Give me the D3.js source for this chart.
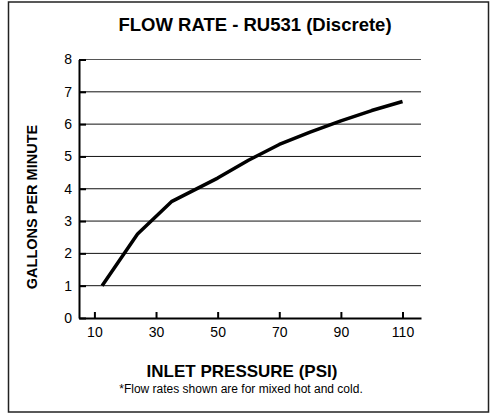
<!DOCTYPE html>
<html>
<head>
<meta charset="utf-8">
<script src="https://cdn.jsdelivr.net/npm/d3@7"></script>
<style>
  body { margin: 0; background: #fff; }
  svg text { font-family: "Liberation Sans", Arial, Helvetica, sans-serif; fill: #000; }
</style>
</head>
<body>
<div class="chart"></div>
<script>
// chart data
var pressure = [12.5, 24, 35, 50, 60, 70, 80, 90, 100, 110];
var gpm = [1.0, 2.6, 3.6, 4.33, 4.88, 5.37, 5.75, 6.1, 6.42, 6.7];
var xTicks = [10, 30, 50, 70, 90, 110];
var yTicks = [0, 1, 2, 3, 4, 5, 6, 7, 8];

var width = 490,
    height = 415;

var svg = d3.select('.chart').append('svg')
    .attr('width', width)
    .attr('height', height);

// frame
svg.append('rect')
    .attr('x', 8.5)
    .attr('y', 2)
    .attr('width', 480)
    .attr('height', 410)
    .attr('fill', 'none')
    .attr('stroke', '#222')
    .attr('stroke-width', 1.5);

// plot area (don't use "top", it clashes with window.top)
var plotLeft = 79, plotRight = 421, plotTop = 59.5, plotBottom = 318;

var x = d3.scaleLinear().domain([5, 116]).range([plotLeft, plotRight]);
var y = d3.scaleLinear().domain([0, 8]).range([plotBottom, plotTop]);

// gridlines
svg.append('g')
    .selectAll('line')
    .data(yTicks.filter(function(d) { return d > 0; }))
  .enter().append('line')
    .attr('x1', plotLeft)
    .attr('x2', plotRight)
    .attr('y1', function(d) { return y(d); })
    .attr('y2', function(d) { return y(d); })
    .attr('stroke', function(d) { return d == 8 ? '#555' : '#111'; })
    .attr('stroke-width', 1);

// y axis, ticks point inward
var yAxis = svg.append('g')
    .attr('transform', 'translate(' + plotLeft + ',0)')
    .call(d3.axisLeft(y).tickValues(yTicks).tickSize(-7).tickPadding(7).tickSizeOuter(0));

// x axis
var xAxis = svg.append('g')
    .attr('transform', 'translate(0,' + plotBottom + ')')
    .call(d3.axisBottom(x).tickValues(xTicks).tickSize(-6).tickPadding(9).tickSizeOuter(0));

[yAxis, xAxis].forEach(function(g) {
  g.select('.domain').attr('stroke', '#000').attr('stroke-width', 2);
  g.selectAll('.tick line').attr('stroke', '#000').attr('stroke-width', 2);
  g.selectAll('.tick text')
    .attr('font-size', 14)
    .attr('font-family', '"Liberation Sans", Arial, sans-serif')
    .attr('fill', '#000');
});

// flow curve - straight segments like the original
var line = d3.line()
    .x(function(d, i) { return x(pressure[i]); })
    .y(function(d) { return y(d); });

svg.append('path')
    .datum(gpm)
    .attr('d', line)
    .attr('fill', 'none')
    .attr('stroke', '#000')
    .attr('stroke-width', 3.5)
    .attr('stroke-linejoin', 'round');

// titles
svg.append('text')
    .attr('x', 255)
    .attr('y', 31)
    .attr('text-anchor', 'middle')
    .attr('font-size', 18.5)
    .attr('font-weight', 'bold')
    .text('FLOW RATE - RU531 (Discrete)');

svg.append('text')
    .attr('transform', 'translate(37,207) rotate(-90)')
    .attr('text-anchor', 'middle')
    .attr('font-size', 14.5)
    .attr('font-weight', 'bold')
    .text('GALLONS PER MINUTE');

svg.append('text')
    .attr('x', 242)
    .attr('y', 377)
    .attr('text-anchor', 'middle')
    .attr('font-size', 17)
    .attr('font-weight', 'bold')
    .text('INLET PRESSURE (PSI)');

svg.append('text')
    .attr('x', 241)
    .attr('y', 393)
    .attr('text-anchor', 'middle')
    .attr('font-size', 12)
    .text('*Flow rates shown are for mixed hot and cold.');
</script>
</body>
</html>
